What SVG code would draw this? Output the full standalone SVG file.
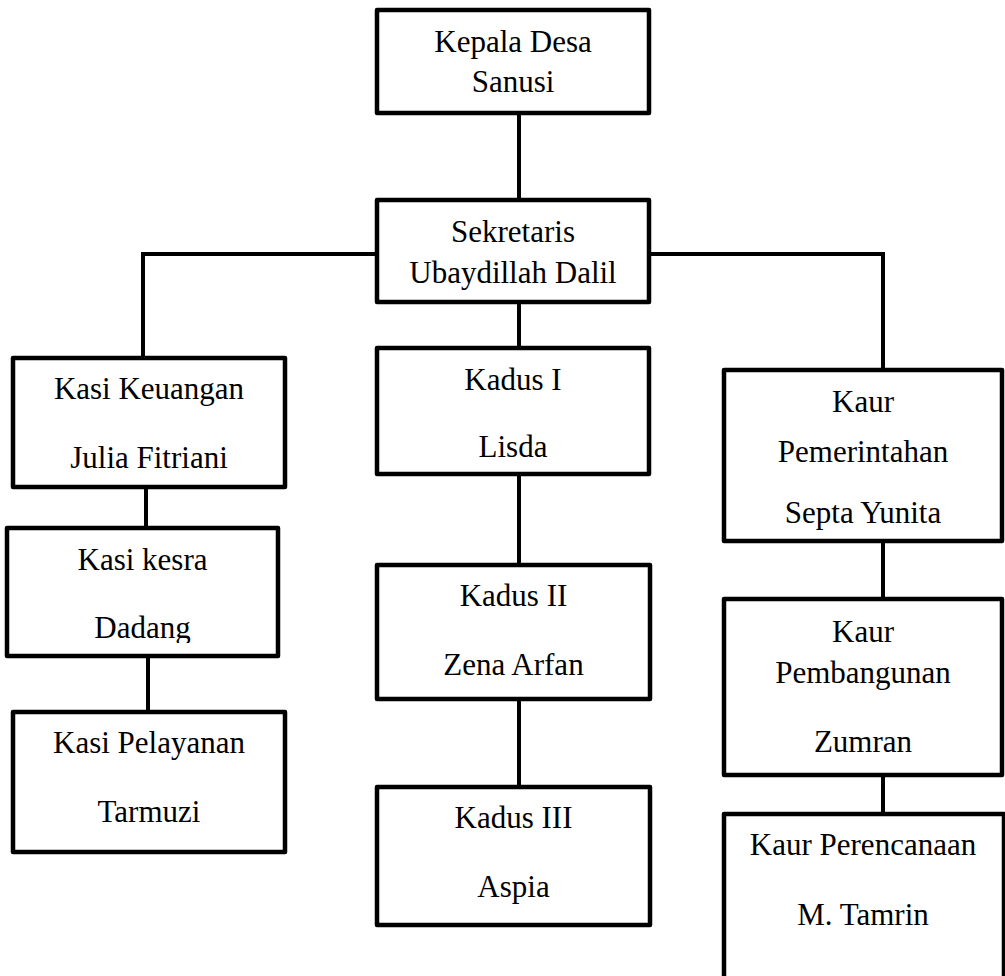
<svg xmlns="http://www.w3.org/2000/svg" width="1005" height="976" viewBox="0 0 1005 976">
<style>
.box{fill:#fff;stroke:#000;stroke-width:4.5;stroke-linejoin:round}
.t{font-family:'Liberation Serif','Times New Roman',Times,'DejaVu Serif',serif;font-size:31px;fill:#000;text-anchor:middle}
.c{stroke:#000;stroke-width:4;fill:none;stroke-linejoin:miter}
</style>
<defs>
<clipPath id="clipDadang"><rect x="0" y="600" width="300" height="43"/></clipPath>
</defs>
<rect width="1005" height="976" fill="#fff"/>
<g id="connectors">
<line class="c" x1="519" y1="113" x2="519" y2="200"/>
<polyline class="c" points="377,254 143,254 143,358"/>
<polyline class="c" points="649,254 883,254 883,370"/>
<line class="c" x1="146" y1="487" x2="146" y2="528"/>
<line class="c" x1="148" y1="656" x2="148" y2="712"/>
<line class="c" x1="519" y1="302" x2="519" y2="348"/>
<line class="c" x1="519" y1="474" x2="519" y2="565"/>
<line class="c" x1="519" y1="699" x2="519" y2="787"/>
<line class="c" x1="883" y1="541" x2="883" y2="599"/>
<line class="c" x1="883" y1="775" x2="883" y2="814"/>
</g>
<g id="kepala-desa">
<rect class="box" x="377" y="10" width="272" height="103"/>
<text class="t" x="513" y="52">Kepala Desa</text>
<text class="t" x="513" y="92">Sanusi</text>
</g>
<g id="sekretaris">
<rect class="box" x="377" y="200" width="272" height="102"/>
<text class="t" x="513" y="242">Sekretaris</text>
<text class="t" x="513" y="283">Ubaydillah Dalil</text>
</g>
<g id="kasi-keuangan">
<rect class="box" x="13" y="358" width="272" height="129"/>
<text class="t" x="149" y="399">Kasi Keuangan</text>
<text class="t" x="149" y="468">Julia Fitriani</text>
</g>
<g id="kasi-kesra">
<rect class="box" x="7" y="528" width="271" height="128"/>
<text class="t" x="142.5" y="570">Kasi kesra</text>
<text class="t" x="142.5" y="638" clip-path="url(#clipDadang)">Dadang</text>
</g>
<g id="kasi-pelayanan">
<rect class="box" x="13" y="712" width="272" height="140"/>
<text class="t" x="149" y="753">Kasi Pelayanan</text>
<text class="t" x="149" y="822">Tarmuzi</text>
</g>
<g id="kadus-1">
<rect class="box" x="377" y="348" width="272" height="126"/>
<text class="t" x="513" y="390">Kadus I</text>
<text class="t" x="513" y="457">Lisda</text>
</g>
<g id="kadus-2">
<rect class="box" x="377" y="565" width="273" height="134"/>
<text class="t" x="513.5" y="606">Kadus II</text>
<text class="t" x="513.5" y="675">Zena Arfan</text>
</g>
<g id="kadus-3">
<rect class="box" x="377" y="787" width="273" height="138"/>
<text class="t" x="513.5" y="828">Kadus III</text>
<text class="t" x="513.5" y="897">Aspia</text>
</g>
<g id="kaur-pemerintahan">
<rect class="box" x="724" y="370" width="278" height="171"/>
<text class="t" x="863" y="412">Kaur</text>
<text class="t" x="863" y="462">Pemerintahan</text>
<text class="t" x="863" y="523">Septa Yunita</text>
</g>
<g id="kaur-pembangunan">
<rect class="box" x="724" y="599" width="278" height="176"/>
<text class="t" x="863" y="642">Kaur</text>
<text class="t" x="863" y="683">Pembangunan</text>
<text class="t" x="863" y="752">Zumran</text>
</g>
<g id="kaur-perencanaan">
<rect class="box" x="724" y="814" width="280" height="180"/>
<text class="t" x="863" y="855">Kaur Perencanaan</text>
<text class="t" x="863" y="925">M. Tamrin</text>
</g>
</svg>
